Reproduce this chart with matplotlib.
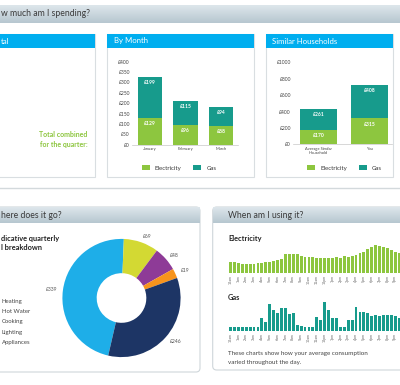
import numpy as np
import matplotlib
matplotlib.use("Agg")
import matplotlib.pyplot as plt
from matplotlib.patches import Rectangle, FancyBboxPatch
from matplotlib.colors import LinearSegmentedColormap

plt.rcParams['font.family'] = ['Lato', 'DejaVu Sans']

# ---- data ----
months = ["January", "February", "March"]
month_elec = [129, 96, 88]
month_gas = [199, 115, 94]

households = ["Average Similar\nHousehold", "You"]
house_elec = [170, 315]
house_gas = [261, 408]

uses = ["Heating", "Hot Water", "Cooking", "Lighting", "Appliances"]
use_cost = [339, 69, 48, 19, 246]

hours = ["12am", "1am", "2am", "3am", "4am", "5am", "6am", "7am", "8am", "9am",
         "10am", "11am", "12pm", "1pm", "2pm", "3pm", "4pm", "5pm", "6pm", "7pm",
         "8pm", "9pm", "10pm", "11pm"]
# half-hourly average consumption (relative units)
elec_profile = [32, 31, 28, 27, 27, 27, 27, 28, 30, 31, 33, 34, 37, 40, 55, 55,
                55, 56, 50, 48, 47, 48, 45, 45, 44, 44, 45, 46, 45, 51, 47, 50,
                53, 58, 63, 70, 78, 82, 80, 78, 73, 68, 63, 58, 54, 50, 47, 44]
gas_profile = [10, 10, 10, 10, 11, 11, 10, 10, 37, 27, 80, 62, 52, 67, 67, 50,
               54, 17, 14, 10, 10, 12, 40, 32, 85, 62, 39, 37, 12, 10, 32, 32,
               70, 57, 55, 52, 45, 47, 44, 47, 47, 47, 45, 39, 36, 30, 25, 15]

BLUE = "#00aeef"
ELEC = "#8dc63f"
GAS = "#179b8c"
USE_COLORS = ["#1eaee8", "#d3d933", "#8e3b97", "#f7941d", "#1d3565"]
TXT = "#3a3a3a"

W, H = 400, 385
fig = plt.figure(figsize=(W / 100, H / 100), dpi=100)
bg = fig.add_axes([0, 0, 1, 1])
bg.set_xlim(0, W)
bg.set_ylim(H, 0)
bg.axis('off')

hdr_cmap = LinearSegmentedColormap.from_list('hdr', ['#dde6eb', '#b7c7d0'])


def frac(x0, y0, x1, y1):
    # pixel box (top-left origin) -> figure fraction rect
    return [x0 / W, 1 - y1 / H, (x1 - x0) / W, (y1 - y0) / H]


def gray_header(x0, x1, y0, y1, title, tx):
    grad = np.linspace(0, 1, 20).reshape(-1, 1)
    bg.imshow(grad, cmap=hdr_cmap, extent=(x0, x1, y1, y0), aspect='auto', zorder=2)
    bg.text(tx, (y0 + y1) / 2, title, color=TXT, fontsize=6.2, va='center', ha='left', zorder=3)


def panel(x0, y0, x1, y1, title, tx):
    bg.add_patch(Rectangle((x0, y0), x1 - x0, y1 - y0, fc='white', ec='#d9dee1', lw=0.8, zorder=1))
    bg.add_patch(Rectangle((x0, y0), x1 - x0, 13.5, fc=BLUE, ec='none', zorder=2))
    bg.text(tx, y0 + 7, title, color='white', fontsize=5.6, va='center', ha='left', zorder=3)


# top section (the screenshot is cropped on the left, so titles start mid-word)
gray_header(-5, 405, 5, 23, "w much am I spending?", 1)
bg.plot([-5, 405], [187.5, 187.5], color='#d3d9dc', lw=1, zorder=1)
panel(-5, 34, 94.5, 177, "tal", 1)
panel(106.7, 34, 254, 177, "By Month", 114)
panel(266, 34, 393, 177, "Similar Households", 272.5)
bg.text(87, 134.5, "Total combined", ha='right', va='center', color=ELEC,
        fontsize=5, fontweight='bold', zorder=3)
bg.text(87.5, 144.5, "for the quarter:", ha='right', va='center', color=ELEC,
        fontsize=5, fontweight='bold', zorder=3)

# bottom boxes
bg.add_patch(FancyBboxPatch((-5, 207), 205, 165, boxstyle='round,pad=0,rounding_size=4',
                            fc='white', ec='#cfd6da', lw=0.8, zorder=1))
gray_header(-5, 200, 207, 223, "here does it go?", 1)
bg.add_patch(FancyBboxPatch((212.7, 207), 200, 163, boxstyle='round,pad=0,rounding_size=4',
                            fc='white', ec='#cfd6da', lw=0.8, zorder=1))
gray_header(212.7, 405, 207, 223, "When am I using it?", 228)


def stacked(ax, names, elec, gas, width, yticks, xlim, legend_xy):
    x = np.arange(len(names))
    be = ax.bar(x, elec, width, color=ELEC, zorder=2)
    bgs = ax.bar(x, gas, width, bottom=elec, color=GAS, zorder=2)
    for i in range(len(names)):
        for top, val in ((elec[i], elec[i]), (elec[i] + gas[i], gas[i])):
            ax.annotate("£%d" % val, (x[i], top), xytext=(0, -4), textcoords='offset points',
                        ha='center', va='center', color='white', fontsize=3.6, fontweight='bold')
    ax.set_xlim(*xlim)
    ax.set_ylim(yticks[0], yticks[-1])
    ax.set_yticks(yticks)
    ax.set_yticklabels(["£%d" % v for v in yticks])
    ax.set_xticks(x)
    ax.set_xticklabels(names, linespacing=0.9)
    ax.tick_params(axis='y', length=0, pad=1.5, labelsize=3.6, labelcolor='#444')
    ax.tick_params(axis='x', length=0, pad=2, labelsize=2.9, labelcolor='#444')
    for s in ('top', 'right', 'left'):
        ax.spines[s].set_visible(False)
    ax.spines['bottom'].set_color('#c8c8c8')
    ax.spines['bottom'].set_linewidth(0.5)
    ax.set_facecolor('none')
    leg = ax.legend([be, bgs], ["Electricity", "Gas"], loc='center',
                    bbox_to_anchor=(legend_xy[0] / W, 1 - legend_xy[1] / H),
                    bbox_transform=fig.transFigure, ncol=2, frameon=False, fontsize=4.4,
                    handlelength=1.3, handleheight=0.9, handletextpad=0.8,
                    columnspacing=2.0, borderpad=0)
    for t in leg.get_texts():
        t.set_color(TXT)


ax1 = fig.add_axes(frac(132, 61.7, 238, 144.7))
stacked(ax1, months, month_elec, month_gas, 0.68, list(range(0, 401, 50)), (-0.51, 2.48), (179, 168))

ax2 = fig.add_axes(frac(293, 62.3, 392, 144.3))
stacked(ax2, households, house_elec, house_gas, 0.72, list(range(0, 1001, 200)), (-0.495, 1.43), (344.5, 167.7))

# donut
axd = fig.add_axes(frac(121.5 - 65, 298 - 65, 121.5 + 65, 298 + 65))
axd.pie(use_cost, colors=USE_COLORS, startangle=257, counterclock=False,
        labels=["£%d" % v for v in use_cost], labeldistance=1.1,
        wedgeprops=dict(width=0.58, linewidth=0),
        textprops=dict(fontsize=3.6, color='#555'))
axd.set_xlim(-1.1, 1.1)
axd.set_ylim(-1.1, 1.1)
axd.set_aspect('equal')

bg.text(1, 238, "dicative quarterly", fontsize=5.3, fontweight='bold', color='#222', va='center', zorder=3)
bg.text(1, 248, "l breakdown", fontsize=5.3, fontweight='bold', color='#222', va='center', zorder=3)
for i, name in enumerate(uses):
    bg.text(2, 301.7 + 10.15 * i, name, fontsize=4.3, color='#444', va='center', zorder=3)

# half-hourly profiles (right part of the day is cropped off in the screenshot)
slot_px = 3.9
x_end = (399 - 230.5) / slot_px
for title, prof, color, base, ty in (("Electricity", elec_profile, ELEC, 272.7, 238),
                                     ("Gas", gas_profile, GAS, 330.7, 297.3)):
    bg.text(228, ty, title, fontsize=5.3, fontweight='bold', color='#222', va='center', zorder=3)
    ax = fig.add_axes(frac(230.5 - 0.5 * slot_px, base - 30, 400, base))
    ax.bar(np.arange(len(prof)), prof, 0.72, color=color)
    ax.set_xlim(-0.5, x_end)
    ax.set_ylim(0, 90)
    ticks = [k for k in range(0, len(prof), 2) if k < x_end - 1]
    ax.set_xticks(ticks)
    ax.set_xticklabels([hours[k // 2] for k in ticks], rotation=90)
    ax.tick_params(axis='x', length=0, pad=1.5, labelsize=2.6, labelcolor='#666')
    ax.set_yticks([])
    for s in ax.spines.values():
        s.set_visible(False)
    ax.set_facecolor('none')

bg.text(228, 353.3, "These charts show how your average consumption", fontsize=4.5,
        color='#444', va='center', zorder=3)
bg.text(228, 362.7, "varied throughout the day.", fontsize=4.5, color='#444', va='center', zorder=3)

fig.savefig("out.png", dpi=100)
